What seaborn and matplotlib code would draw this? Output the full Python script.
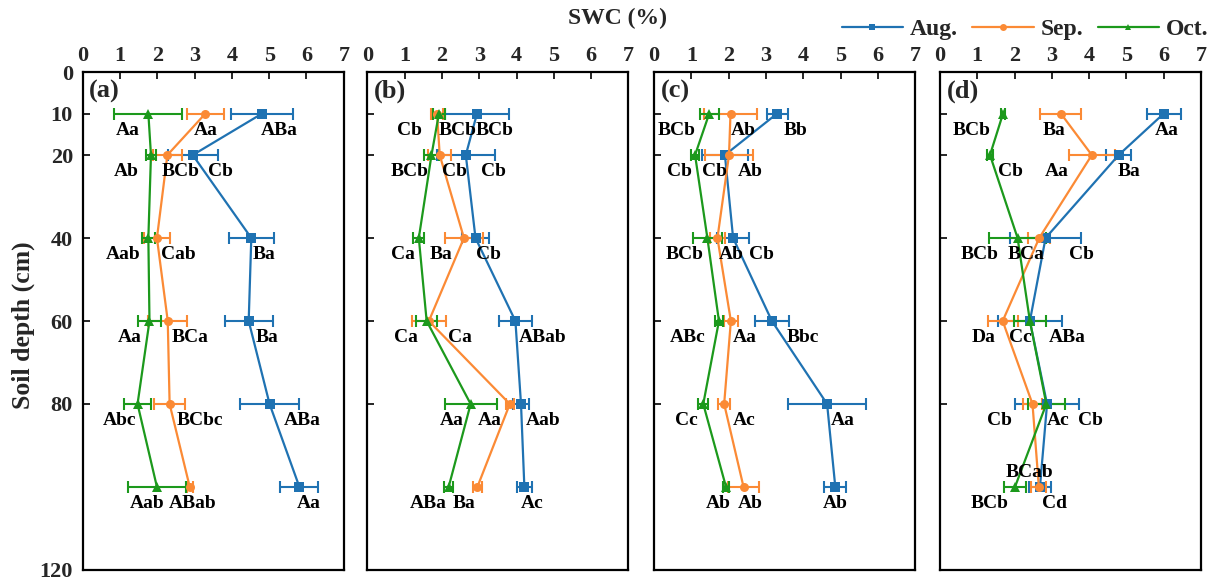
import matplotlib
matplotlib.use("Agg")
import matplotlib.pyplot as plt
import numpy as np
import pandas as pd
import seaborn as sns

# Soil depths (cm) and sampling months
depths = [10, 20, 40, 60, 80, 100]
months = ["Aug.", "Sep.", "Oct."]
panel_tags = ["(a)", "(b)", "(c)", "(d)"]

# Mean soil water content (%) per panel and month
aug_a = [4.81, 2.95, 4.52, 4.45, 5.01, 5.81]
sep_a = [3.29, 2.27, 1.99, 2.28, 2.33, 2.87]
oct_a = [1.76, 1.83, 1.76, 1.79, 1.47, 1.99]

aug_b = [2.94, 2.64, 2.90, 3.97, 4.12, 4.21]
sep_b = [1.87, 1.94, 2.59, 1.65, 3.82, 2.95]
oct_b = [1.92, 1.72, 1.38, 1.59, 2.77, 2.18]

aug_c = [3.30, 1.90, 2.12, 3.16, 4.64, 4.86]
sep_c = [2.05, 2.01, 1.70, 2.06, 1.88, 2.40]
oct_c = [1.48, 1.10, 1.43, 1.74, 1.32, 1.93]

aug_d = [6.00, 4.79, 2.83, 2.41, 2.87, 2.68]
sep_d = [3.24, 4.07, 2.66, 1.68, 2.48, 2.65]
oct_d = [1.69, 1.34, 2.08, 2.41, 2.85, 2.01]

# Standard errors
aug_a_err = [0.84, 0.67, 0.60, 0.64, 0.78, 0.51]
sep_a_err = [0.50, 0.39, 0.34, 0.52, 0.42, 0.08]
oct_a_err = [0.91, 0.14, 0.18, 0.31, 0.35, 0.77]

aug_b_err = [0.86, 0.77, 0.37, 0.44, 0.22, 0.20]
sep_b_err = [0.15, 0.31, 0.50, 0.45, 0.10, 0.13]
oct_b_err = [0.15, 0.20, 0.15, 0.29, 0.70, 0.13]

aug_c_err = [0.28, 0.62, 0.42, 0.45, 1.04, 0.29]
sep_c_err = [0.71, 0.65, 0.20, 0.18, 0.16, 0.42]
oct_c_err = [0.26, 0.10, 0.39, 0.10, 0.14, 0.08]

aug_d_err = [0.46, 0.34, 0.96, 0.85, 0.85, 0.30]
sep_d_err = [0.55, 0.61, 0.30, 0.40, 0.25, 0.20]
oct_d_err = [0.05, 0.07, 0.77, 0.42, 0.49, 0.29]

# Significance letters
aug_a_sig = ["ABa", "Cb", "Ba", "Ba", "ABa", "Aa"]
sep_a_sig = ["Aa", "BCb", "Cab", "BCa", "BCbc", "ABab"]
oct_a_sig = ["Aa", "Ab", "Aab", "Aa", "Abc", "Aab"]

aug_b_sig = ["BCb", "Cb", "Cb", "ABab", "Aab", "Ac"]
sep_b_sig = ["BCb", "Cb", "Ba", "Ca", "Aa", "Ba"]
oct_b_sig = ["Cb", "BCb", "Ca", "Ca", "Aa", "ABa"]

aug_c_sig = ["Bb", "Ab", "Cb", "Bbc", "Aa", "Ab"]
sep_c_sig = ["Ab", "Cb", "Ab", "Aa", "Ac", "Ab"]
oct_c_sig = ["BCb", "Cb", "BCb", "ABc", "Cc", "Ab"]

aug_d_sig = ["Aa", "Ba", "Cb", "ABa", "Cb", "BCab"]
sep_d_sig = ["Ba", "Aa", "BCa", "Da", "Cb", "Cd"]
oct_d_sig = ["BCb", "Cb", "BCb", "Cc", "Ac", "BCb"]

values = {
    "(a)": [aug_a, sep_a, oct_a], "(b)": [aug_b, sep_b, oct_b],
    "(c)": [aug_c, sep_c, oct_c], "(d)": [aug_d, sep_d, oct_d],
}
errors = {
    "(a)": [aug_a_err, sep_a_err, oct_a_err], "(b)": [aug_b_err, sep_b_err, oct_b_err],
    "(c)": [aug_c_err, sep_c_err, oct_c_err], "(d)": [aug_d_err, sep_d_err, oct_d_err],
}
letters = {
    "(a)": [aug_a_sig, sep_a_sig, oct_a_sig], "(b)": [aug_b_sig, sep_b_sig, oct_b_sig],
    "(c)": [aug_c_sig, sep_c_sig, oct_c_sig], "(d)": [aug_d_sig, sep_d_sig, oct_d_sig],
}

# Where each letter is written (x in SWC units), ordered Aug., Sep., Oct.
letter_x = {
    "(a)": [[5.26, 3.69, 4.87, 4.95, 5.89, 6.05],
            [3.29, 2.62, 2.57, 2.88, 3.15, 2.96],
            [1.21, 1.18, 1.09, 1.25, 0.98, 1.74]],
    "(b)": [[3.41, 3.37, 3.24, 4.71, 4.72, 4.41],
            [2.41, 2.33, 1.97, 2.48, 3.28, 2.59],
            [1.12, 1.12, 0.95, 1.03, 2.27, 1.63]],
    "(c)": [[3.79, 2.57, 2.88, 3.99, 5.06, 4.87],
            [2.39, 1.63, 2.08, 2.43, 2.41, 2.59],
            [0.61, 0.67, 0.83, 0.90, 0.87, 1.72]],
    "(d)": [[6.08, 5.06, 3.79, 3.40, 4.04, 2.41],
            [3.07, 3.14, 2.30, 1.18, 1.60, 3.07],
            [0.85, 1.89, 1.05, 2.16, 3.16, 1.34]],
}
# vertical shift of a letter below its point (cm); negative puts it above
letter_dy = {"(d)": {(0, 5): -3.4}}

colors = {"Aug.": "#1f72b2", "Sep.": "#fb8a35", "Oct.": "#1c991c"}
markers = {"Aug.": "s", "Sep.": "o", "Oct.": "^"}

sns.set_theme(style="ticks")
plt.rcParams["font.family"] = ["Liberation Serif", "DejaVu Serif"]
plt.rcParams["font.weight"] = "bold"
plt.rcParams["axes.linewidth"] = 1.6

fig = plt.figure(figsize=(12.2, 5.81), dpi=100)
lefts = [0.0678, 0.3011, 0.5361, 0.7705]
width = 0.2140
bottom, height = 0.019, 0.857

legend_handles = None
for i, tag in enumerate(panel_tags):
    ax = fig.add_axes([lefts[i], bottom, width, height])
    rows = []
    for m, month in enumerate(months):
        for d, v, e in zip(depths, values[tag][m], errors[tag][m]):
            rows.append({"depth": d, "swc": v, "err": e, "month": month})
    df = pd.DataFrame(rows)

    for month in months:
        sub = df[df["month"] == month]
        ax.errorbar(sub["swc"], sub["depth"], xerr=sub["err"], fmt="none",
                    ecolor=colors[month], elinewidth=1.5, capsize=4,
                    capthick=1.5, zorder=2)

    sns.lineplot(data=df, x="swc", y="depth", hue="month", style="month",
                 hue_order=months, style_order=months, palette=colors,
                 markers=markers, dashes=False, orient="y", sort=True,
                 linewidth=1.6, markersize=6.5, markeredgewidth=0,
                 legend=(i == 0), ax=ax, zorder=3)
    if i == 0:
        legend_handles = ax.get_legend_handles_labels()
        ax.get_legend().remove()

    for m in range(3):
        for k, d in enumerate(depths):
            dy = letter_dy.get(tag, {}).get((m, k), 4.0)
            ax.text(letter_x[tag][m][k], d + dy, letters[tag][m][k],
                    ha="center", va="center", fontsize=14, fontweight="bold",
                    color="black", zorder=4)

    ax.set_xlim(0, 7)
    ax.set_ylim(120, 0)
    ax.set_xticks(range(0, 8))
    ax.set_yticks([0, 10, 20, 40, 60, 80, 120])
    ax.set_xlabel("")
    ax.set_ylabel("")
    ax.tick_params(axis="x", direction="in", top=True, bottom=False,
                   labeltop=True, labelbottom=False, length=5, width=1.4,
                   labelsize=16, pad=4)
    ax.tick_params(axis="y", direction="in", left=True, right=False,
                   labelleft=(i == 0), length=5, width=1.4, labelsize=16, pad=7)
    for lab in ax.get_xticklabels() + ax.get_yticklabels():
        lab.set_fontweight("bold")
    for s in ax.spines.values():
        s.set_visible(True)
        s.set_linewidth(1.6)
        s.set_color("black")
    ax.text(0.025, 0.985, tag, transform=ax.transAxes, ha="left", va="top",
            fontsize=19, fontweight="bold")

handles, labels = legend_handles
for h in handles:
    h.set_markersize(5)
fig.legend(handles, labels, loc="upper right", bbox_to_anchor=(1.008, 1.005),
           ncol=3, frameon=False, handlelength=2.6, handletextpad=0.3,
           columnspacing=0.6, prop={"size": 17, "weight": "bold"})

fig.text(0.506, 0.968, "SWC (%)", ha="center", va="center",
         fontsize=17, fontweight="bold")
fig.text(0.019, 0.44, "Soil depth (cm)", ha="center", va="center",
         rotation=90, fontsize=18.5, fontweight="bold")

fig.savefig("out.png", dpi=100)
